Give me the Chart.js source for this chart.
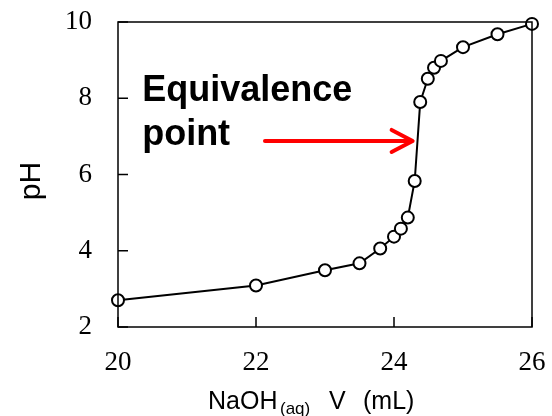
<!DOCTYPE html>
<html>
<head>
<meta charset="utf-8">
<script src="https://cdn.jsdelivr.net/npm/chart.js@4/dist/chart.umd.min.js"></script>
<style>
  body { margin: 0; background: #fff; }
  #wrap { width: 552px; height: 416px; }
</style>
</head>
<body>
<div id="wrap"><canvas id="titration" width="552" height="416"></canvas></div>
<script>
// Volume of NaOH added (mL) and measured pH
const volumes = [20.0, 22.0, 23.0, 23.5, 23.8, 24.0, 24.1, 24.2, 24.3, 24.38, 24.49, 24.58, 24.68, 25.0, 25.5, 26.0];
const phValues = [2.70, 3.09, 3.49, 3.67, 4.06, 4.37, 4.58, 4.87, 5.83, 7.90, 8.51, 8.80, 8.98, 9.34, 9.68, 9.95];

const xTicks = [20, 22, 24, 26];
const yTicks = [2, 4, 6, 8, 10];

// Annotation (in data units)
const noteLines = ['Equivalence', 'point'];
const noteAt = { x: 20.35, y: [7.92, 6.78] };
const arrowFrom = { x: 22.13, y: 6.88 };
const arrowTo = { x: 24.27, y: 6.88 };

// no extra room for tick label overflow, layout padding decides
const noOverflow = (s) => {
  s.paddingTop = 0;
  s.paddingBottom = 0;
  s.paddingLeft = 0;
  s.paddingRight = 0;
};

// Ticks inside the plot, box, titles, arrow
const extras = {
  id: 'extras',
  afterDraw(chart) {
    const ctx = chart.ctx;
    const a = chart.chartArea;
    const xs = chart.scales.x;
    const ys = chart.scales.y;
    ctx.save();

    // frame
    ctx.strokeStyle = '#000';
    ctx.lineWidth = 1.5;
    ctx.strokeRect(a.left, a.top, a.right - a.left, a.bottom - a.top);

    // inward tick marks
    ctx.beginPath();
    yTicks.forEach(v => {
      const py = ys.getPixelForValue(v);
      ctx.moveTo(a.left, py);
      ctx.lineTo(a.left + 10, py);
    });
    xTicks.forEach(v => {
      const px = xs.getPixelForValue(v);
      ctx.moveTo(px, a.bottom);
      ctx.lineTo(px, a.bottom - 10);
    });
    ctx.stroke();

    // y title
    ctx.fillStyle = '#000';
    ctx.font = '30px "Liberation Sans", Arial, sans-serif';
    ctx.textAlign = 'center';
    ctx.textBaseline = 'alphabetic';
    ctx.save();
    ctx.translate(40, 181);
    ctx.rotate(-Math.PI / 2);
    ctx.fillText('pH', 0, 0);
    ctx.restore();

    // x title with subscript
    ctx.textAlign = 'left';
    const base = 409;
    ctx.font = '25px "Liberation Sans", Arial, sans-serif';
    ctx.fillText('NaOH', 208, base);
    ctx.font = '17px "Liberation Sans", Arial, sans-serif';
    ctx.fillText('(aq)', 280, base + 5);
    ctx.font = '25px "Liberation Sans", Arial, sans-serif';
    ctx.fillText('V', 329, base);
    ctx.fillText('(mL)', 363, base);

    // annotation text
    ctx.font = 'bold 36px "Liberation Sans", Arial, sans-serif';
    noteLines.forEach((t, i) => {
      ctx.fillText(t, xs.getPixelForValue(noteAt.x), ys.getPixelForValue(noteAt.y[i]));
    });

    // red arrow
    const x0 = xs.getPixelForValue(arrowFrom.x), y0 = ys.getPixelForValue(arrowFrom.y);
    const x1 = xs.getPixelForValue(arrowTo.x), y1 = ys.getPixelForValue(arrowTo.y);
    ctx.strokeStyle = '#ff0000';
    ctx.lineWidth = 4;
    ctx.lineCap = 'round';
    ctx.lineJoin = 'round';
    ctx.beginPath();
    ctx.moveTo(x0, y0);
    ctx.lineTo(x1 - 2, y1);
    ctx.moveTo(x1 - 21, y1 - 11);
    ctx.lineTo(x1, y1);
    ctx.lineTo(x1 - 21, y1 + 11);
    ctx.stroke();

    ctx.restore();
  }
};

new Chart(document.getElementById('titration'), {
  type: 'scatter',
  data: {
    datasets: [{
      data: volumes.map((v, i) => ({ x: v, y: phValues[i] })),
      showLine: true,
      borderColor: '#000',
      borderWidth: 2,
      pointRadius: 6,
      pointBorderWidth: 2,
      pointBackgroundColor: '#fff',
      pointBorderColor: '#000',
      tension: 0,
      clip: false,
    }],
  },
  options: {
    responsive: false,
    animation: false,
    events: [],
    layout: { padding: { top: 22, right: 20, left: 0, bottom: 0 } },
    plugins: { legend: { display: false }, tooltip: { enabled: false } },
    scales: {
      x: {
        type: 'linear',
        min: 20,
        max: 26,
        afterBuildTicks: (s) => { s.ticks = xTicks.map(v => ({ value: v })); },
        afterFit: (s) => { s.height = 89; noOverflow(s); },
        grid: { display: false, drawTicks: false },
        border: { display: false },
        ticks: {
          color: '#000',
          padding: 20,
          maxRotation: 0,
          font: { family: '"Liberation Serif", "Times New Roman", serif', size: 27 },
        },
      },
      y: {
        type: 'linear',
        min: 2,
        max: 10,
        afterBuildTicks: (s) => { s.ticks = yTicks.map(v => ({ value: v })); },
        afterFit: (s) => { s.width = 118; noOverflow(s); },
        grid: { display: false, drawTicks: false },
        border: { display: false },
        ticks: {
          color: '#000',
          padding: 26,
          font: { family: '"Liberation Serif", "Times New Roman", serif', size: 27 },
        },
      },
    },
  },
  plugins: [extras],
});
</script>
</body>
</html>
